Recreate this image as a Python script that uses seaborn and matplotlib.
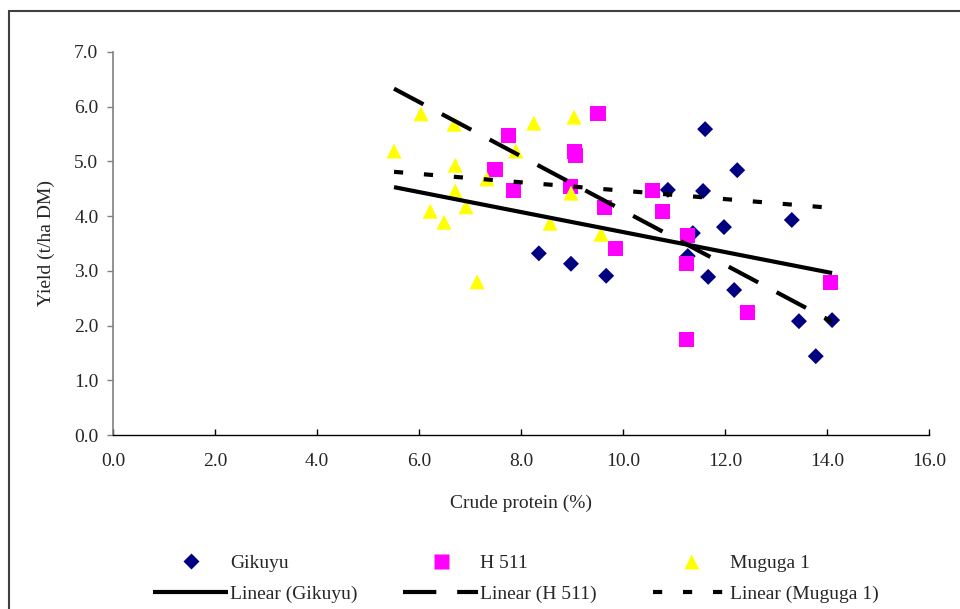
import matplotlib.pyplot as plt
import seaborn as sns
import pandas as pd
from matplotlib.lines import Line2D
from matplotlib.patches import Rectangle

# crude protein (%) and yield (t/ha DM) per variety
gikuyu_cp = [8.35, 8.98, 9.67, 10.88, 11.61, 12.24, 11.57, 13.31, 11.98,
             11.37, 11.27, 11.67, 12.18, 13.45, 14.10, 13.78]
gikuyu_yield = [3.32, 3.13, 2.91, 4.48, 5.59, 4.84, 4.46, 3.93, 3.80,
                3.69, 3.27, 2.89, 2.65, 2.08, 2.10, 1.44]

h511_cp = [9.51, 7.76, 9.04, 9.06, 7.49, 7.86, 8.98, 9.63, 9.86, 10.57,
           10.78, 11.27, 11.24, 14.06, 12.45, 11.24]
h511_yield = [5.87, 5.48, 5.19, 5.10, 4.86, 4.46, 4.55, 4.15, 3.40, 4.46,
              4.08, 3.64, 3.14, 2.78, 2.23, 1.74]

muguga_cp = [6.04, 6.69, 8.25, 9.04, 5.51, 7.90, 6.71, 7.33, 6.71, 8.98,
             6.22, 6.92, 6.49, 8.57, 9.57, 7.14]
muguga_yield = [5.87, 5.68, 5.70, 5.81, 5.19, 5.19, 4.93, 4.68, 4.46, 4.42,
                4.09, 4.17, 3.89, 3.87, 3.67, 2.80]

# linear trend lines (end points as drawn)
trend_cp = [5.51, 14.10]
gikuyu_trend = [4.53, 2.96]
h511_trend = [6.33, 2.07]
muguga_trend = [4.81, 4.15]

sns.set_style("white")
plt.rcParams['font.family'] = ['Liberation Serif', 'DejaVu Serif']
plt.rcParams['font.size'] = 14

fig = plt.figure(figsize=(9.6, 6.09), dpi=100)
ax = fig.add_axes([113 / 960, 1 - 435 / 609, 816 / 960, 383 / 609])

# scatter series
sns.scatterplot(x=gikuyu_cp, y=gikuyu_yield, marker='D', s=66,
                color='#000080', edgecolor='none', ax=ax, zorder=3)
sns.scatterplot(x=h511_cp, y=h511_yield, marker='s', s=117,
                color='#FF00FF', edgecolor='none', ax=ax, zorder=3)
sns.scatterplot(x=muguga_cp, y=muguga_yield, marker='^', s=117,
                color='#FFFF00', edgecolor='none', ax=ax, zorder=3)

# trend lines
lw = 3.0
sns.lineplot(x=trend_cp, y=gikuyu_trend, color='black', lw=lw, ax=ax,
             zorder=4, solid_capstyle='butt')
sns.lineplot(x=trend_cp, y=h511_trend, color='black', lw=lw, ax=ax,
             zorder=4, dashes=False, linestyle=(0, (8, 5)), dash_capstyle='butt')
sns.lineplot(x=trend_cp, y=muguga_trend, color='black', lw=lw, ax=ax,
             zorder=4, dashes=False, linestyle=(0, (2.2, 5)), dash_capstyle='butt')

ax.set_xlim(0, 16)
ax.set_ylim(0, 7)
ax.set_xticks(range(0, 17, 2))
ax.set_yticks(range(0, 8))
ax.xaxis.set_major_formatter(plt.FormatStrFormatter('%.1f'))
ax.yaxis.set_major_formatter(plt.FormatStrFormatter('%.1f'))

for side in ['top', 'right']:
    ax.spines[side].set_visible(False)
ax.spines['left'].set_color('#808080')
ax.spines['bottom'].set_color('black')
ax.spines['left'].set_linewidth(1.2)
ax.spines['bottom'].set_linewidth(1.0)
ax.tick_params(axis='y', direction='out', length=4.5, width=1, color='#808080',
               pad=6, labelsize=14, left=True)
ax.tick_params(axis='x', direction='in', length=4.5, width=1, color='black',
               pad=13, labelsize=14, bottom=True)

ax.set_xlabel('Crude protein (%)', fontsize=14, labelpad=18)
ax.set_ylabel('Yield (t/ha DM)', fontsize=14, labelpad=14)

# legend: three columns, marker on top and trend line below
names = ['Gikuyu', 'H 511', 'Muguga 1']
markers = [('D', 8.1, '#000080'), ('s', 10.8, '#FF00FF'), ('^', 10.8, '#FFFF00')]
styles = ['-', (0, (8, 5)), (0, (2.2, 5))]
lefts = [153, 403, 653]
for name, (mk, ms, col), ls, left in zip(names, markers, styles, lefts):
    handles = [Line2D([], [], marker=mk, ms=ms, color=col, lw=0, mec='none'),
               Line2D([], [], color='black', lw=lw, linestyle=ls,
                      dash_capstyle='butt', solid_capstyle='butt')]
    leg = fig.legend(handles, [name, f'Linear ({name})'], loc='upper left',
                     bbox_to_anchor=(left / 960, 1 - 554 / 609), frameon=False,
                     borderpad=0, borderaxespad=0, handlelength=3.86,
                     handletextpad=0.1, labelspacing=0.68, fontsize=14,
                     numpoints=1)

# outer chart frame
fig.patches.append(Rectangle((9 / 960, -0.05), 1.1, 1.05 - 11 / 609,
                             transform=fig.transFigure, fill=False,
                             edgecolor='#404040', lw=1.5, clip_on=False))

fig.savefig('out.png', dpi=100)
